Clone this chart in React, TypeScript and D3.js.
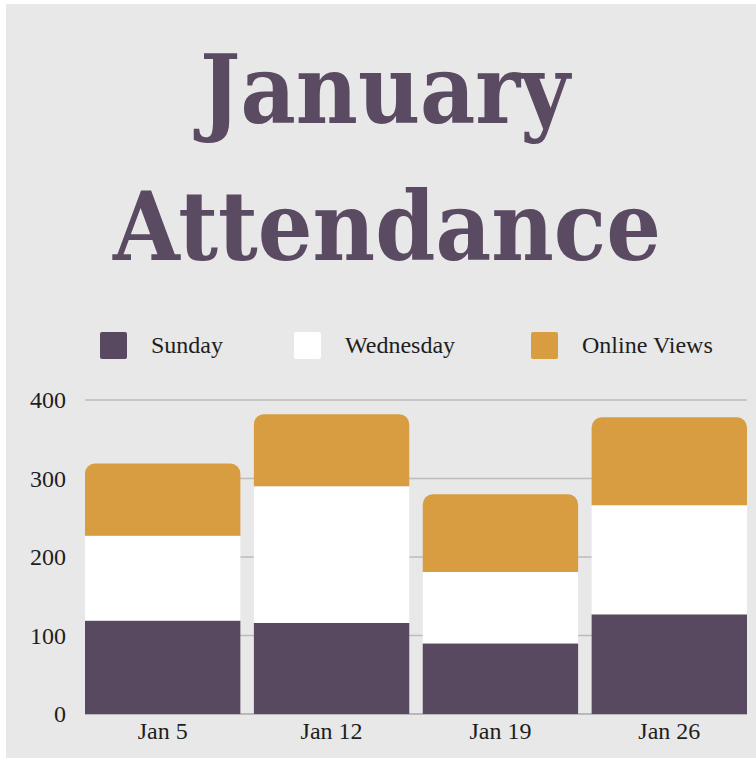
import React from "react";
import * as d3 from "d3";

const categories = ["Jan 5", "Jan 12", "Jan 19", "Jan 26"];
const seriesNames = ["Sunday", "Wednesday", "Online Views"];
const sunday = [119, 116, 90, 127];
const wednesday = [108, 174, 91, 139];
const onlineViews = [92, 92, 99, 112];
const yTicks = [0, 100, 200, 300, 400];
const titleLines = ["January", "Attendance"];

const W = 756;
const H = 759;
const colors = ["#594960", "#ffffff", "#d89c41"];
const textColor = "#1e1e1e";
const titleColor = "#5a4a62";

function topRoundedRect(x: number, y: number, w: number, h: number, r: number) {
  const rr = Math.min(r, h, w / 2);
  const p = d3.path();
  p.moveTo(x, y + h);
  p.lineTo(x, y + rr);
  p.arcTo(x, y, x + rr, y, rr);
  p.lineTo(x + w - rr, y);
  p.arcTo(x + w, y, x + w, y + rr, rr);
  p.lineTo(x + w, y + h);
  p.closePath();
  return p.toString();
}

export default function App() {
  const rows = categories.map((c, i) => ({
    cat: c,
    Sunday: sunday[i],
    Wednesday: wednesday[i],
    "Online Views": onlineViews[i],
  }));
  const stacked = d3.stack<any>().keys(seriesNames)(rows);

  const x = d3.scaleBand<string>().domain(categories).range([85, 747]).paddingInner(0.08).paddingOuter(0);
  const y = d3.scaleLinear().domain([0, 400]).range([714, 400]);

  const legendX = [100, 294, 531];
  const serif = "'Liberation Serif', 'Times New Roman', serif";

  return (
    <div style={{ position: "absolute", left: 0, top: 0, width: W, height: H }}>
      <svg width={W} height={H} style={{ display: "block" }}>
        <rect x={0} y={0} width={W} height={H} fill="#ffffff" />
        <rect x={6} y={4} width={W - 6} height={H - 5} fill="#e8e8e8" />

        {titleLines.map((t, i) => (
          <text
            key={t}
            x={i === 0 ? 200 : 113}
            y={i === 0 ? 123 : 260}
            fontFamily="'DejaVu Serif', serif"
            fontWeight="bold"
            fontSize={96}
            fill={titleColor}
            textLength={i === 0 ? 370 : 548}
            lengthAdjust="spacingAndGlyphs"
          >
            {t}
          </text>
        ))}

        {seriesNames.map((s, i) => (
          <g key={s}>
            <rect x={legendX[i]} y={332} width={27} height={27} rx={2} fill={colors[i]} />
            <text x={legendX[i] + 51} y={353} fontFamily={serif} fontSize={24} fill={textColor}>
              {s}
            </text>
          </g>
        ))}

        {yTicks.map((t) => (
          <g key={t}>
            <line x1={85} x2={747} y1={y(t)} y2={y(t)} stroke={t === 0 ? "#a8a8a8" : "#bcbcbc"} strokeWidth={1.5} />
            <text x={66} y={y(t)} dy="0.35em" textAnchor="end" fontFamily={serif} fontSize={24} fill={textColor}>
              {t}
            </text>
          </g>
        ))}

        {stacked.map((layer, li) =>
          layer.map((d, i) => {
            const bx = x(categories[i]) as number;
            const bw = x.bandwidth();
            const y0 = y(d[0]);
            const y1 = y(d[1]);
            const isTop = li === stacked.length - 1;
            return isTop ? (
              <path key={li + "-" + i} d={topRoundedRect(bx, y1, bw, y0 - y1, 10)} fill={colors[li]} />
            ) : (
              <rect key={li + "-" + i} x={bx} y={y1} width={bw} height={y0 - y1} fill={colors[li]} />
            );
          })
        )}

        {categories.map((c) => (
          <text
            key={c}
            x={(x(c) as number) + x.bandwidth() / 2}
            y={739}
            textAnchor="middle"
            fontFamily={serif}
            fontSize={24}
            fill={textColor}
          >
            {c}
          </text>
        ))}
      </svg>
    </div>
  );
}
